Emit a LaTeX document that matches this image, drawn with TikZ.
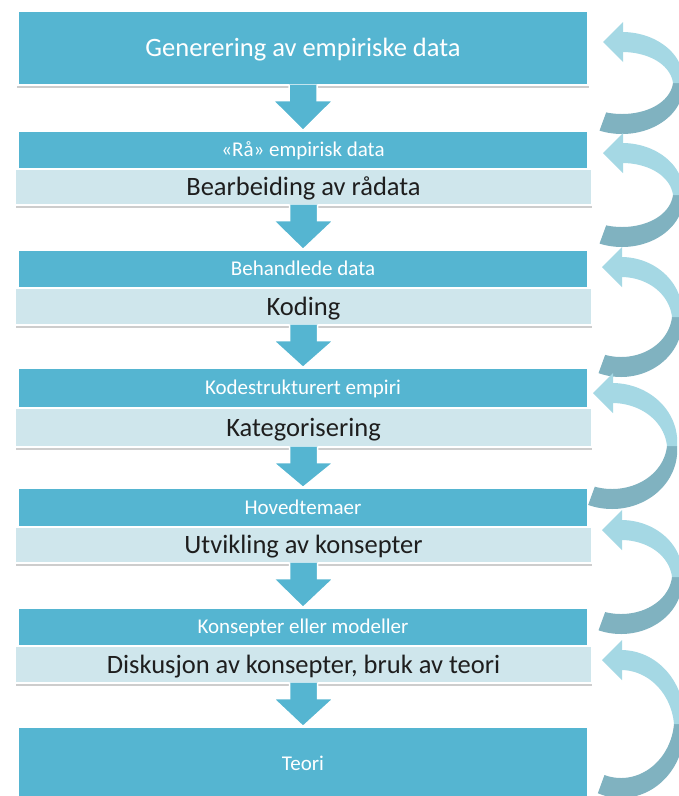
\documentclass[tikz,border=0pt]{standalone}
\usepackage{fontspec}
\setmainfont{Carlito}
\usetikzlibrary{calc}
\definecolor{boxblue}{HTML}{55B5D1}
\definecolor{bandlight}{HTML}{CFE6EC}
\definecolor{textdark}{HTML}{1E1E1E}
\definecolor{arrlight}{HTML}{A5D8E4}
\definecolor{arrdark}{HTML}{80B2C0}
\definecolor{shadowgray}{HTML}{CDCDCD}
\newcommand{\chev}[2]{%
  \path[chevarrow] let \p1=(#1.south), \p2=(#2.north) in
    (\x1-14pt,\y1+1pt) -- (\x1-14pt,\y1-15pt) -- (\x1-30pt,\y1-15pt) -- (\x2,\y2)
    -- (\x1+30pt,\y1-15pt) -- (\x1+14pt,\y1-15pt) -- (\x1+14pt,\y1+1pt);}
\newcommand{\looparrow}[4]{%
  \fill[arrdark] plot[domain=0:110,samples=50,variable=\t]
      ({#1+(#3+5+5*abs(sin(\t)))*cos(\t)},{#2+(#4+5+5*abs(sin(\t)))*sin(\t)})
    -- plot[domain=110:0,samples=50,variable=\t]
      ({#1+(#3-5-5*abs(sin(\t)))*cos(\t)},{#2+(#4-5-5*abs(sin(\t)))*sin(\t)}) -- cycle;
  \fill[arrlight] plot[domain=-90:0,samples=50,variable=\t]
      ({#1+(#3+5+5*abs(sin(\t)))*cos(\t)},{#2+(#4+5+5*abs(sin(\t)))*sin(\t)})
    -- plot[domain=0:-90,samples=50,variable=\t]
      ({#1+(#3-5-5*abs(sin(\t)))*cos(\t)},{#2+(#4-5-5*abs(sin(\t)))*sin(\t)}) -- cycle;
  \fill[arrlight] (#1+1,#2-#4-20) -- (#1-19,#2-#4) -- (#1+1,#2-#4+20) -- cycle;}
\begin{document}
\begin{tikzpicture}[x=1pt,y=-1pt,
  blueband/.style={fill=boxblue, draw=white, line width=1.2pt, text=white,
    font=\fontsize{21}{24}\selectfont, inner sep=0pt, minimum width=570pt,
    text height=13.5pt, text depth=0pt},
  bigblue/.style={blueband, font=\fontsize{26.5}{30}\selectfont, text height=17pt},
  lightband/.style={fill=bandlight, draw=white, line width=1.2pt, text=textdark,
    font=\fontsize{26.5}{30}\selectfont, inner sep=0pt, minimum width=577pt,
    text height=17pt, text depth=0pt},
  chevarrow/.style={fill=boxblue, draw=white, line width=1.5pt, line join=miter},
  shadowbox/.style={fill=shadowgray}]
\useasboundingbox (0,0) rectangle (679,796);
\fill[white] (0,0) rectangle (679,796);
% shadows (bottom edge only)
\foreach \l/\r/\b in {17/589/86, 16/592/206, 16/592/326, 16/592/448, 16/592/564, 16/592/684}{
  \fill[shadowbox] (\l,\b-3) rectangle (\r,\b+2.2);
}
% boxes
\node[bigblue, minimum height=74pt] (b1) at (303,48) {Generering av empiriske data};
\node[blueband, minimum height=38pt] (b2) at (303,150) {«Rå» empirisk data};
\node[lightband, minimum height=36pt] (l2) at (303.5,187) {Bearbeiding av rådata};
\node[blueband, minimum height=38pt] (b3) at (303,269) {Behandlede data};
\node[lightband, minimum height=37pt] (l3) at (303.5,306.5) {Koding};
\node[blueband, minimum height=40pt] (b4) at (303,388) {Kodestrukturert empiri};
\node[lightband, minimum height=39pt] (l4) at (303.5,427.5) {Kategorisering};
\node[blueband, minimum height=39pt] (b5) at (303,507.5) {Hovedtemaer};
\node[lightband, minimum height=36pt] (l5) at (303.5,545) {Utvikling av konsepter};
\node[blueband, minimum height=38pt] (b6) at (303,627) {Konsepter eller modeller};
\node[lightband, minimum height=37pt] (l6) at (303.5,664.5) {Diskusjon av konsepter, bruk av teori};
\node[blueband, minimum height=74pt] (b7) at (303,764) {Teori};
% downward arrows
\chev{b1}{b2}
\chev{l2}{b3}
\chev{l3}{b4}
\chev{l4}{b5}
\chev{l5}{b6}
\chev{l6}{b7}
% feedback arrows
\looparrow{622}{83}{56}{41}
\looparrow{622}{195}{56}{42}
\looparrow{621}{317}{56}{50}
\looparrow{612}{446}{60}{53}
\looparrow{621}{577}{56}{47}
\looparrow{621}{724}{58}{64}
\end{tikzpicture}
\end{document}
